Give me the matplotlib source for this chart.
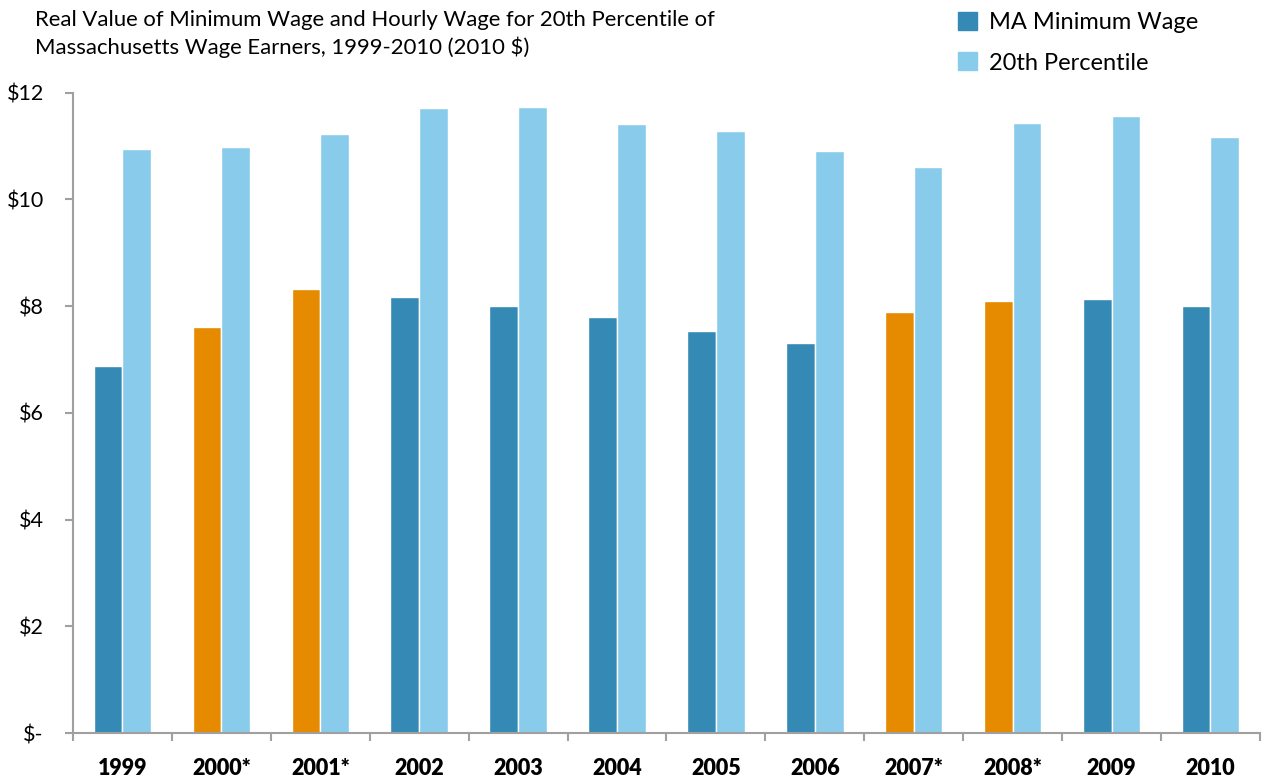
import matplotlib.pyplot as plt
import numpy as np
from matplotlib.patches import Patch

years = ["1999", "2000*", "2001*", "2002", "2003", "2004",
         "2005", "2006", "2007*", "2008*", "2009", "2010"]
min_wage = [6.88, 7.61, 8.32, 8.17, 8.00, 7.80,
            7.53, 7.31, 7.89, 8.10, 8.13, 8.00]
pct20 = [10.94, 10.98, 11.22, 11.71, 11.73, 11.41,
         11.28, 10.91, 10.61, 11.43, 11.56, 11.17]
highlight = ["2000*", "2001*", "2007*", "2008*"]
yticks = [0, 2, 4, 6, 8, 10, 12]
ylabels = ["$-", "$2", "$4", "$6", "$8", "$10", "$12"]

dark = "#348ab4"
light = "#88cbea"
orange = "#e68a00"
axis_color = "#a0a0a0"

plt.rcParams["font.family"] = ["Lato", "DejaVu Sans"]

fig = plt.figure(figsize=(12.65, 7.77), dpi=100)
ax = fig.add_axes([0.0577, 0.0566, 0.9383, 0.8241])

x = np.arange(len(years))
width = 0.29
min_colors = [orange if y in highlight else dark for y in years]
ax.bar(x - width / 2, min_wage, width, color=min_colors,
       edgecolor="white", linewidth=1)
ax.bar(x + width / 2, pct20, width, color=light,
       edgecolor="white", linewidth=1)

ax.set_xlim(-0.5, len(years) - 0.5)
ax.set_ylim(0, 12)
ax.set_yticks(yticks)
ax.set_yticklabels(ylabels, fontsize=15.5)
ax.set_xticks(x)
ax.set_xticklabels(years, fontsize=15.5, fontweight="heavy")
ax.set_xticks(np.arange(-0.5, len(years), 1), minor=True)
ax.tick_params(axis="x", which="major", length=0, pad=18)
ax.tick_params(axis="x", which="minor", length=6, width=1.5,
               color=axis_color, direction="out")
ax.tick_params(axis="y", length=6, width=1.5, color=axis_color,
               direction="out", pad=15)

for side in ["top", "right"]:
    ax.spines[side].set_visible(False)
for side in ["left", "bottom"]:
    ax.spines[side].set_color(axis_color)
    ax.spines[side].set_linewidth(1.5)

fig.text(35 / 1265, 1 - 10 / 777,
         "Real Value of Minimum Wage and Hourly Wage for 20th Percentile of\n"
         "Massachusetts Wage Earners, 1999-2010 (2010 $)",
         fontsize=15.9, va="top", ha="left", linespacing=1.35)

handles = [Patch(color=dark, label="MA Minimum Wage"),
           Patch(color=light, label="20th Percentile")]
fig.legend(handles=handles, loc="upper left",
           bbox_to_anchor=(937 / 1265, 1 + 9 / 777),
           frameon=False, fontsize=17, handlelength=0.8,
           handleheight=0.8, handletextpad=0.5, labelspacing=0.8)

fig.savefig("out.png", dpi=100)
